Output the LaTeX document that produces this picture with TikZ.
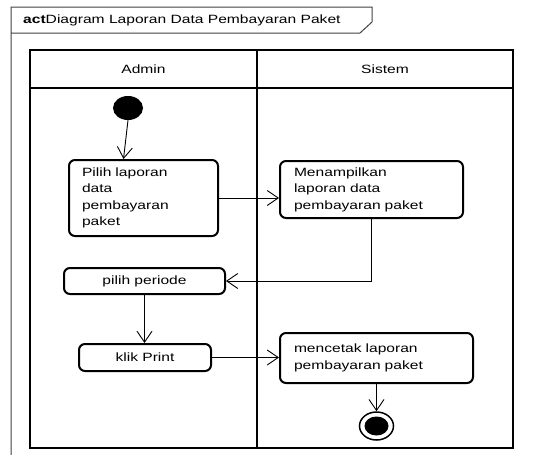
\documentclass[tikz,border=0pt]{standalone}
\usepackage{fontspec}
\setmainfont{Liberation Sans}[FakeStretch=1.3]
\usetikzlibrary{arrows.meta, shapes.geometric}

\begin{document}
\begin{tikzpicture}[x=1pt, y=-1pt,
    every node/.style={font=\fontsize{12}{16.5}\selectfont},
    actbox/.style={draw, line width=2pt, rounded corners=6pt, align=left, inner xsep=13pt, inner ysep=3pt},
    alur/.style={-{Straight Barb[length=11pt, width=15pt]}, line width=0.9pt}]
    \useasboundingbox (0, 0) rectangle (541, 455);
    % frame
    \draw[black!75, line width=1pt] (11, 460) -- (11, 7) -- (372, 7) -- (372, 22) -- (360, 33) -- (11, 33);
    \node[anchor=west, inner sep=0pt] (judul) at (23, 20) {\textbf{act}Diagram Laporan Data Pembayaran Paket};
    % swimlanes
    \draw[line width=2pt] (30, 50) rectangle (513, 448);
    \draw[line width=2pt] (257, 50) -- (257, 448);
    \draw[line width=2pt] (30, 88) -- (513, 88);
    \node (admin) at (143.5, 69) {Admin};
    \node (sistem) at (385, 69) {Sistem};
    % aktivitas
    \node[ellipse, fill, minimum width=30pt, minimum height=24pt, inner sep=0pt] (awal) at (128, 108) {};
    \node[actbox, text width=123pt, minimum height=76pt] (pilih) at (143.5, 198) {Pilih laporan\\data\\pembayaran\\paket};
    \node[actbox, inner xsep=14pt, text width=155pt, minimum height=57pt] (tampil) at (371.5, 189.5) {Menampilkan\\laporan data\\pembayaran paket};
    \node[actbox, align=center, minimum width=161pt, minimum height=26pt] (periode) at (144.5, 281) {pilih periode};
    \node[actbox, align=center, minimum width=132pt, minimum height=27pt] (klik) at (145, 357.5) {klik Print};
    \node[actbox, inner xsep=14pt, text width=165pt, minimum height=50pt] (cetak) at (376.5, 358) {mencetak laporan\\pembayaran paket};
    \node[ellipse, draw, line width=1.5pt, minimum width=34pt, minimum height=28pt, inner sep=0pt] (akhir) at (376.5, 426) {};
    \fill (akhir.center) ellipse (12pt and 9.5pt);
    % alur
    \draw[alur] (awal.south) -- ([xshift=-20pt]pilih.north);
    \draw[alur] (pilih.east) -- (tampil.west |- pilih.east);
    \draw[alur] (tampil.south) |- (periode.east);
    \draw[alur] (periode.south) -- (periode.south |- klik.north);
    \draw[alur] (klik.east) -- (cetak.west |- klik.east);
    \draw[alur] (cetak.south) -- (akhir.north);
\end{tikzpicture}
\end{document}
